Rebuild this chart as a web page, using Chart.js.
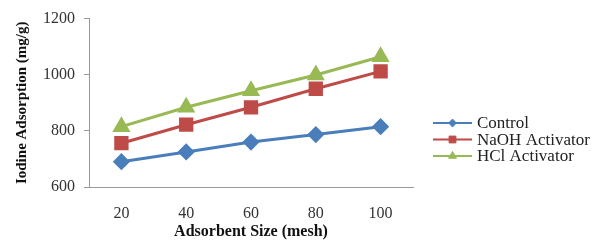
<!DOCTYPE html>
<html>
<head>
<meta charset="utf-8">
<script src="https://cdn.jsdelivr.net/npm/chart.js@4"></script>
<style>
  html, body { margin: 0; padding: 0; background: #fff; }
  #wrap { width: 592px; height: 241px; }
</style>
</head>
<body>
<div id="wrap"><canvas id="chart" width="592" height="241"></canvas></div>
<script>
// data
const sizes = ["20", "40", "60", "80", "100"];
const control = [690, 725, 760, 787, 815];
const naoh = [756, 822, 884, 950, 1012];
const hcl = [815, 884, 943, 999, 1064];
const yTicks = [600, 800, 1000, 1200];

const BLUE = "#4A7EBB";
const RED = "#BE4B48";
const GREEN = "#98B954";
const FONT = "'Liberation Serif', 'DejaVu Serif', serif";

// legend drawn on the right, line + marker like the original
const sideLegend = {
  id: "sideLegend",
  afterDraw(chart) {
    const ctx = chart.ctx;
    const x0 = 433, y0 = 123, step = 16.5;
    chart.data.datasets.forEach(function (ds, i) {
      const y = y0 + i * step;
      ctx.save();
      ctx.strokeStyle = ds.borderColor;
      ctx.fillStyle = ds.borderColor;
      ctx.lineWidth = 2;
      ctx.beginPath();
      ctx.moveTo(x0, y);
      ctx.lineTo(x0 + 39, y);
      ctx.stroke();
      ctx.lineWidth = 1;
      Chart.helpers.drawPoint(ctx, {
        pointStyle: ds.pointStyle,
        radius: ds.pointRadius * 0.6,
        borderWidth: 1
      }, x0 + 19.5, y);
      ctx.fillStyle = "#222";
      ctx.font = "17px " + FONT;
      ctx.textBaseline = "middle";
      ctx.fillText(ds.label, x0 + 44, y + 1);
      ctx.restore();
    });
  }
};

function series(label, data, color, style, r) {
  return {
    label: label,
    data: data,
    borderColor: color,
    backgroundColor: color,
    pointBackgroundColor: color,
    pointBorderColor: color,
    borderWidth: 3,
    pointStyle: style,
    pointRadius: r,
    pointHoverRadius: r,
    tension: 0
  };
}

new Chart(document.getElementById("chart").getContext("2d"), {
  type: "line",
  data: {
    labels: sizes,
    datasets: [
      series("Control", control, BLUE, "rectRot", 6.5),
      series("NaOH Activator", naoh, RED, "rect", 8),
      series("HCl Activator", hcl, GREEN, "triangle", 7.5)
    ]
  },
  options: {
    responsive: false,
    animation: false,
    layout: { autoPadding: false, padding: { left: 0, right: 179, top: 11, bottom: 0 } },
    plugins: {
      legend: { display: false },
      tooltip: { enabled: false }
    },
    scales: {
      x: {
        offset: true,
        grid: { display: false, drawTicks: false },
        border: { display: true, color: "#999", width: 1 },
        ticks: { color: "#333", font: { family: FONT, size: 16 }, padding: 17 },
        title: {
          display: true,
          text: "Adsorbent Size (mesh)",
          color: "#111",
          font: { family: FONT, size: 16, weight: "bold" },
          padding: { top: 0, bottom: 0 }
        },
        afterFit(scale) { scale.height = 54; }
      },
      y: {
        min: 600,
        max: 1200,
        afterBuildTicks(axis) {
          axis.ticks = yTicks.map(function (v) { return { value: v }; });
        },
        grid: { drawOnChartArea: false, drawTicks: true, tickLength: 5, color: "#999" },
        border: { display: true, color: "#999", width: 1 },
        ticks: {
          color: "#333",
          font: { family: FONT, size: 16 },
          padding: 9,
          callback: function (v) { return String(v); }
        },
        title: {
          display: true,
          text: "Iodine Adsorption (mg/g)",
          color: "#111",
          font: { family: FONT, size: 15, weight: "bold" },
          padding: { top: 13, bottom: 0 }
        },
        afterFit(scale) { scale.width = 89; }
      }
    }
  },
  plugins: [sideLegend]
});
</script>
</body>
</html>
